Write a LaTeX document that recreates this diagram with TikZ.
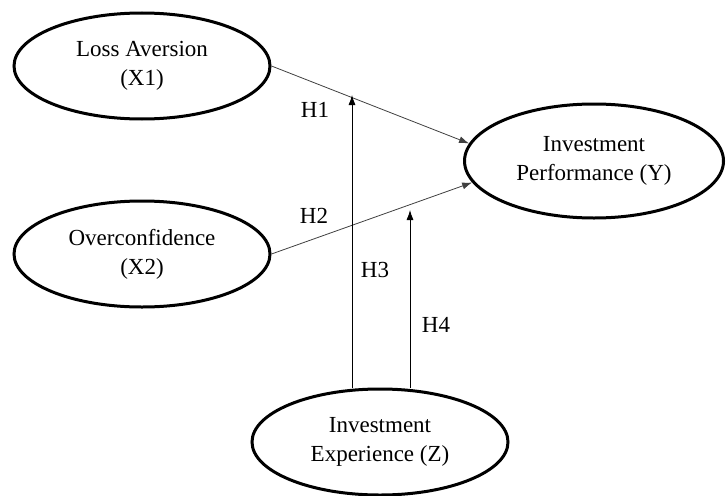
\documentclass[tikz,border=0pt]{standalone}
\usepackage{fontspec}
\setmainfont{Liberation Serif}
\usepackage{tikz}
\usetikzlibrary{shapes.geometric,arrows.meta}

\begin{document}
\begin{tikzpicture}
  [x=1pt,y=-1pt,every node/.style={font=\fontsize{23}{29}\selectfont}]
 \tikzset{latent/.style={ellipse,draw,line width=3pt,inner sep=0pt,align=center,
   minimum width=256pt,minimum height=106pt}}
 \tikzset{EdgeStyle/.style={-{Latex[length=10pt,width=7pt]},line width=0.8pt}}
 \useasboundingbox (0,0) rectangle (727,495);

  \node[latent] (x1) at (142,66) {Loss Aversion\\(X1)};
  \node[latent] (x2) at (142,254) {Overconfidence\\(X2)};
  \node[latent,minimum width=259pt,minimum height=114pt] (y) at (594,161) {Investment\\Performance (Y)};
  \node[latent] (z) at (380,442) {Investment\\Experience (Z)};

  \coordinate (t3) at (352,95);
  \coordinate (t4) at (410,210);

  \node (h1) at (315,110) {H1};
  \node (h2) at (314,216) {H2};
  \node (h3) at (375,270) {H3};
  \node (h4) at (436,325) {H4};

 \draw[EdgeStyle,black!75] (x1.east) -- (y.172);
 \draw[EdgeStyle,black!75] (x2.east) -- (y.-170);
 \foreach \to in {t3,t4}
    \draw[EdgeStyle] (z.north -| \to) -- (\to);

\end{tikzpicture}
\end{document}
